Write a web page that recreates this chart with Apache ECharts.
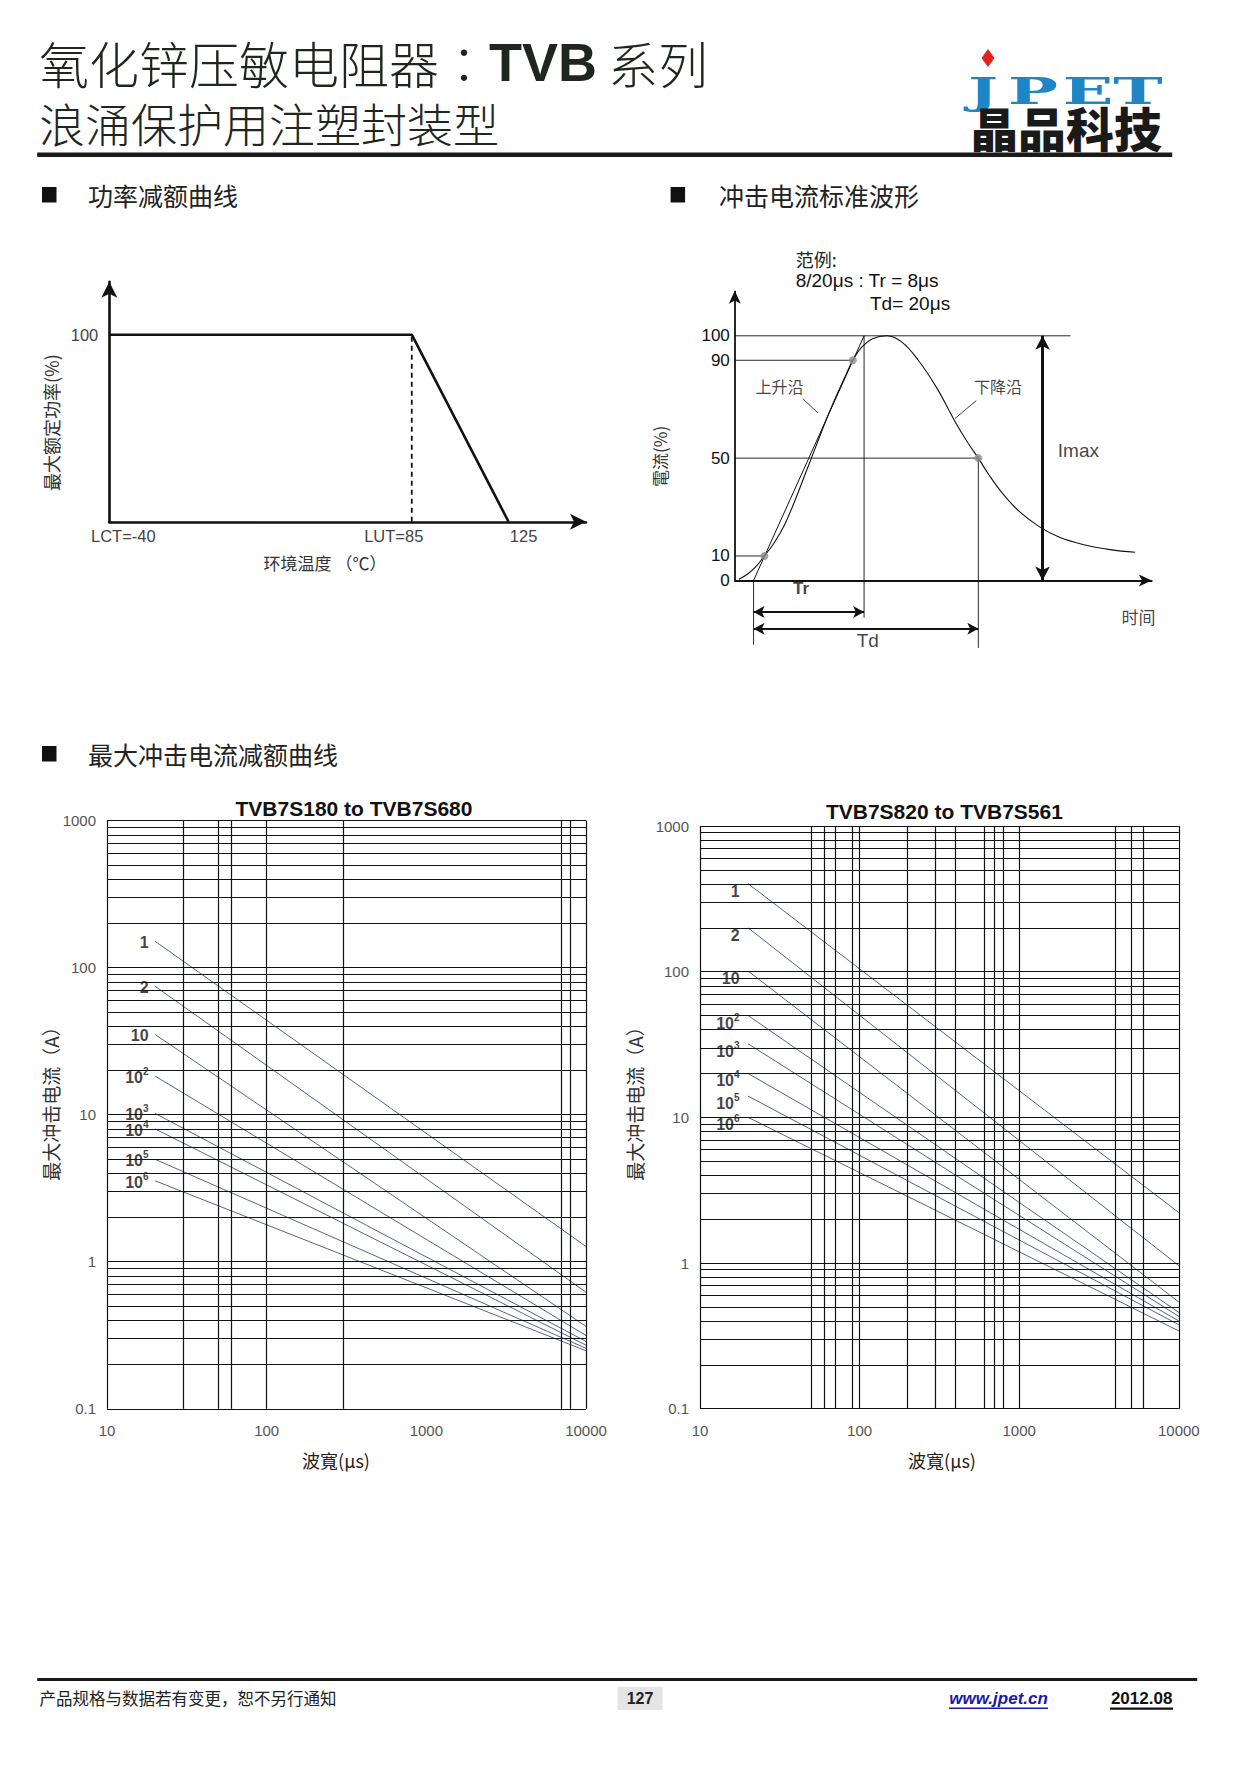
<!DOCTYPE html>
<html><head><meta charset="utf-8">
<script src="https://cdn.jsdelivr.net/npm/echarts@6/dist/echarts.min.js"></script>
<style>html,body{margin:0;padding:0;background:#fff}#c{width:1251px;height:1766px}</style>
</head><body><div id="c"></div>
<script>
// ---------------- DATA ----------------
// Power derating curve
const powerTempC = [-40, 85, 125];
const powerPct = [100, 100, 0];
const powerTickValues = [-40, 85, 125];
const powerTickLabels = ['LCT=-40', 'LUT=85', '125'];
const powerYTicks = [100];

// Standard impulse current waveform (schematic time units 0..100)
const waveT = [1.0, 3.0, 5.0, 7.1, 9.5, 12.0, 14.5, 17.0, 19.5, 22.0, 24.5, 26.5, 28.3, 30.5, 33.0, 36.5, 40.0, 44.0, 48.5, 52.8, 56.0, 58.4, 61.0, 64.0, 68.0, 73.0, 78.0, 84.0, 90.0, 96.0];
const waveI = [0.5, 2.5, 5.5, 10, 15.5, 23, 33, 44, 55, 66, 76, 83.5, 90, 95.5, 98.8, 100, 97.5, 90, 78.5, 65, 56, 50, 43, 36, 28.5, 22, 17.5, 14.5, 12.6, 11.5];
const frontLineT = [4.5, 31.0];
const frontLineI = [0, 100];
const wavePointT = [7.1, 28.3, 58.4];
const wavePointI = [10, 90, 50];
const waveTicks = [0, 10, 50, 90, 100];
const waveRefLevels = [100, 90, 50, 10];
const waveRefEndT = [80.5, 28.3, 58.4, 7.1];
const waveDropT = [4.5, 31.0, 58.4];
const waveDropTopI = [0, 100, 50];
const waveDropBottomI = [-26.3, -15.2, -27.6];
const imaxT = 73.8;

// Max surge current derating curves (pulse width in us -> current in A)
const pulseWidthUs = [20, 10000];
const pulseCountLabels = ['1', '2', '10', '10^2', '10^3', '10^4', '10^5', '10^6'];
const leftStartA = [151, 74.7, 35.1, 18.3, 10.2, 8.0, 4.97, 3.55];
const leftEndA = [1.27, 0.62, 0.363, 0.315, 0.287, 0.271, 0.258, 0.248];
const rightStartA = [402, 200, 101, 50, 32, 20, 14, 10];
const rightEndA = [2.22, 0.96, 0.54, 0.458, 0.43, 0.40, 0.377, 0.342];
const leftVGrid = [10, 30, 50, 60, 100, 300, 7000, 8000, 10000];
const rightVGrid = [10, 50, 60, 70, 90, 100, 200, 300, 400, 600, 700, 800, 1000, 4000, 5000, 6000, 10000];
const hGridValues = [0.1, 0.2, 0.3, 0.4, 0.5, 0.6, 0.7, 0.8, 0.9, 1, 2, 3, 4, 5, 6, 7, 8, 9, 10, 20, 30, 40, 50, 60, 70, 80, 90, 100, 200, 300, 400, 500, 600, 700, 800, 900, 1000];

// ---------------- CHART ----------------
const CJK = '"Noto Sans CJK SC","Noto Sans CJK JP",sans-serif';
const CJK_TC = '"Noto Sans CJK TC","Noto Sans CJK SC",sans-serif';
const LAT = '"Liberation Sans",Arial,"Noto Sans CJK SC",sans-serif';
const chart = echarts.init(document.getElementById('c'), null, {renderer: 'svg', width: 1251, height: 1766});

function txt(x, y, text, o) {
  o = o || {};
  const al = o.align || 'left';
  return {
    type: 'text', x: x, y: y, rotation: o.rot || 0, silent: true, z: 20,
    scaleX: o.sx || 1, scaleY: o.sy || 1,
    style: Object.assign({
      text: text, fill: o.fill || '#222', fontSize: o.size || 16,
      fontFamily: o.family || CJK, fontWeight: o.weight || 'normal', fontStyle: o.fstyle || 'normal',
      align: al, verticalAlign: 'middle', textAlign: al, textVerticalAlign: 'middle'
    }, o.extra || {})
  };
}
function rect(x, y, w, h, fill) {
  return {type: 'rect', silent: true, z: 5, shape: {x: x, y: y, width: w, height: h}, style: {fill: fill}};
}
function supLabel(name) {
  const p = name.split('^');
  return p.length > 1 ? '{a|' + p[0] + '}{s|' + p[1] + '}' : '{a|' + p[0] + '}';
}
const curveRich = {
  a: {fontSize: 16, fontWeight: 'bold', fontFamily: LAT, color: '#111', verticalAlign: 'bottom', lineHeight: 19},
  s: {fontSize: 10, fontWeight: 'bold', fontFamily: LAT, color: '#111', verticalAlign: 'top', lineHeight: 19}
};
const numFmt = v => String(+(+v).toPrecision(6));

function logAxisX(gi) {
  return {gridIndex: gi, type: 'log', logBase: 10, min: 10, max: 10000,
    axisLine: {show: false}, axisTick: {show: false}, splitLine: {show: false}, minorSplitLine: {show: false},
    axisLabel: {formatter: numFmt, fontSize: 15, color: '#555', fontFamily: LAT, margin: 14, showMaxLabel: true, showMinLabel: true}};
}
function logAxisY(gi) {
  return {gridIndex: gi, type: 'log', logBase: 10, min: 0.1, max: 1000,
    axisLine: {show: false}, axisTick: {show: false}, splitLine: {show: false}, minorSplitLine: {show: false},
    axisLabel: {formatter: numFmt, fontSize: 15, color: '#555', fontFamily: LAT, margin: 11, showMaxLabel: true, showMinLabel: true}};
}
function logSeries(ai, starts, ends, vgrid, labelOffset) {
  const out = [];
  starts.forEach((s, i) => {
    const ser = {
      type: 'line', xAxisIndex: ai, yAxisIndex: ai, symbol: 'none', silent: true, z: 3,
      data: [[pulseWidthUs[0], s], [pulseWidthUs[1], ends[i]]],
      lineStyle: {color: '#3f5282', width: 0.9}
    };
    if (i === 0) {
      ser.markLine = {
        silent: true, symbol: ['none', 'none'], label: {show: false}, animation: false,
        lineStyle: {color: '#111', width: 1.2, type: 'solid'},
        data: hGridValues.map(v => ({yAxis: v})).concat(vgrid.map(v => ({xAxis: v})))
      };
    }
    out.push(ser);
  });
  out.push({
    type: 'scatter', xAxisIndex: ai, yAxisIndex: ai, symbolSize: 1, silent: true, z: 6,
    itemStyle: {color: 'rgba(0,0,0,0)'},
    data: starts.map((s, i) => ({value: [pulseWidthUs[0], s], name: pulseCountLabels[i]})),
    label: {show: true, position: 'left', distance: 6, offset: labelOffset,
      formatter: p => supLabel(p.name), rich: curveRich}
  });
  return out;
}

const blackLine = (w, extra) => Object.assign({color: '#111', width: w}, extra || {});

const series = [
  // ---- power derating ----
  {type: 'line', xAxisIndex: 0, yAxisIndex: 0, symbol: 'none', silent: true, z: 3,
    data: powerTempC.map((t, i) => [t, powerPct[i]]), lineStyle: blackLine(2.6)},
  {type: 'line', xAxisIndex: 0, yAxisIndex: 0, symbol: 'none', silent: true, z: 3,
    data: [[powerTempC[1], 0], [powerTempC[1], powerPct[1]]], lineStyle: blackLine(1.8, {type: [5, 4]})},

  // ---- waveform ----
  {type: 'line', xAxisIndex: 1, yAxisIndex: 1, symbol: 'none', silent: true, smooth: 0.4, z: 3,
    data: waveT.map((t, i) => [t, waveI[i]]), lineStyle: blackLine(1.1),
    markLine: {silent: true, symbol: ['none', 'arrow'], symbolSize: [9, 13], label: {show: false}, animation: false,
      lineStyle: blackLine(1.8, {type: 'solid'}),
      data: [[{coord: [0, 0]}, {coord: [0, 118.4]}]]}},
  {type: 'line', xAxisIndex: 1, yAxisIndex: 1, symbol: 'none', silent: true, z: 3,
    data: frontLineT.map((t, i) => [t, frontLineI[i]]), lineStyle: blackLine(1.0)}
].concat(
  waveRefLevels.map((lv, i) => ({type: 'line', xAxisIndex: 1, yAxisIndex: 1, symbol: 'none', silent: true, z: 2,
    data: [[0, lv], [waveRefEndT[i], lv]], lineStyle: blackLine(0.9)})),
  waveDropT.map((t, i) => {
    const s = {type: 'line', xAxisIndex: 1, yAxisIndex: 1, symbol: 'none', silent: true, z: 2, clip: false,
      data: [[t, waveDropTopI[i]], [t, waveDropBottomI[i]]], lineStyle: blackLine(0.9)};
    if (i === 0) {
      s.markLine = {silent: true, symbol: ['arrow', 'arrow'], symbolSize: [9, 11], label: {show: false}, animation: false,
        lineStyle: blackLine(2.0, {type: 'solid'}),
        data: [
          [{coord: [waveDropT[0], -12.9]}, {coord: [waveDropT[1], -12.9]}],
          [{coord: [waveDropT[0], -19.8]}, {coord: [waveDropT[2], -19.8]}]
        ]};
    }
    if (i === 1) {
      s.markLine = {silent: true, symbol: ['arrow', 'arrow'], symbolSize: [11, 14], label: {show: false}, animation: false,
        lineStyle: blackLine(3.0, {type: 'solid'}),
        data: [[{coord: [imaxT, waveRefLevels[0]]}, {coord: [imaxT, 0]}]]};
    }
    return s;
  }),
  [
    {type: 'line', xAxisIndex: 1, yAxisIndex: 1, symbol: 'none', silent: true, z: 2,
      data: [[16.3, 74.3], [19.9, 68.5]], lineStyle: blackLine(0.8)},
    {type: 'line', xAxisIndex: 1, yAxisIndex: 1, symbol: 'none', silent: true, z: 2,
      data: [[57.9, 73.5], [52.8, 66.2]], lineStyle: blackLine(0.8)},
    {type: 'scatter', xAxisIndex: 1, yAxisIndex: 1, symbolSize: 8, silent: true, z: 5,
      itemStyle: {color: '#8c8c8c'}, data: wavePointT.map((t, i) => [t, wavePointI[i]])},
    {type: 'scatter', xAxisIndex: 1, yAxisIndex: 1, symbolSize: 1, silent: true, z: 6,
      itemStyle: {color: 'rgba(0,0,0,0)'},
      label: {show: true, position: 'inside', formatter: p => p.name, color: '#111', fontFamily: CJK, fontSize: 16},
      data: [
        {value: [10.7, 79.6], name: '上升沿'},
        {value: [63.1, 79.6], name: '下降沿'},
        {value: [82.4, 53], name: 'Imax', label: {fontFamily: LAT, fontSize: 19}},
        {value: [96.8, -14.7], name: '时间', label: {fontSize: 17}},
        {value: [15.9, -3.2], name: 'Tr', label: {fontFamily: LAT, fontSize: 17, fontWeight: 'bold'}},
        {value: [31.9, -24.4], name: 'Td', label: {fontFamily: LAT, fontSize: 19}}
      ]}
  ],
  logSeries(2, leftStartA, leftEndA, leftVGrid, [0, 0]),
  logSeries(3, rightStartA, rightEndA, rightVGrid, [-2, 6])
);

const graphic = [
  // header
  txt(39, 62, '{n|氧化锌压敏电阻器}{c|：}{b|TVB}{n| 系列}', {extra: {rich: {
    n: {fontSize: 50, fontFamily: CJK, fill: '#1f261f', color: '#1f261f', fontWeight: 300},
    c: {fontSize: 50, fontFamily: CJK_TC, fill: '#1f261f', color: '#1f261f', fontWeight: 300},
    b: {fontSize: 54, fontFamily: LAT, fontWeight: 'bold', fill: '#1f261f', color: '#1f261f'}}}}),
  txt(39, 122, '浪涌保护用注塑封装型', {size: 46, weight: 300, fill: '#1f261f'}),
  rect(37.2, 152.5, 1135, 4.5, '#1a1a1a'),
  // logo
  {type: 'polygon', silent: true, z: 20, shape: {points: [[988, 49], [994.5, 58], [988, 67], [981.5, 58]]}, style: {fill: '#e0241b'}},
  txt(983, 90.5, 'J', {size: 38, family: '"DejaVu Serif",serif', weight: 'bold', fill: '#1f86c6', align: 'center', sx: 1.65}),
  txt(1033, 90.5, 'P', {size: 38, family: '"DejaVu Serif",serif', weight: 'bold', fill: '#1f86c6', align: 'center', sx: 1.75}),
  txt(1088, 90.5, 'E', {size: 38, family: '"DejaVu Serif",serif', weight: 'bold', fill: '#1f86c6', align: 'center', sx: 1.75}),
  txt(1138, 90.5, 'T', {size: 38, family: '"DejaVu Serif",serif', weight: 'bold', fill: '#1f86c6', align: 'center', sx: 1.75}),
  txt(1066, 127, '晶品科技', {size: 47, weight: 900, fill: '#1a1a1a', align: 'center', sx: 1.02}),
  // section headers
  rect(42, 187, 14.5, 15.5, '#111'),
  txt(88, 195, '功率减额曲线', {size: 25, fill: '#222'}),
  rect(670.6, 187, 14.5, 15.5, '#111'),
  txt(719, 195, '冲击电流标准波形', {size: 25, fill: '#222'}),
  rect(42, 746, 14.5, 15.5, '#111'),
  txt(88, 754, '最大冲击电流减额曲线', {size: 25, fill: '#222'}),
  // power chart titles
  txt(50.7, 422.6, '最大额定功率(%)', {size: 18, rot: Math.PI / 2, align: 'center', fill: '#333'}),
  txt(325, 562.4, '环境温度 （℃）', {size: 17, align: 'center', fill: '#333'}),
  // waveform annotations
  txt(795.7, 259, '范例:', {size: 18}),
  txt(795.7, 280.6, '8/20μs : Tr = 8μs', {size: 19, family: LAT, fill: '#111'}),
  txt(870, 303, 'Td= 20μs', {size: 19, family: LAT, fill: '#111'}),
  txt(659, 456.4, '電流(%)', {size: 17, rot: Math.PI / 2, align: 'center', fill: '#333'}),
  // log chart titles
  txt(354, 808, 'TVB7S180 to TVB7S680', {size: 21, family: LAT, weight: 'bold', align: 'center', fill: '#111'}),
  txt(944.4, 811.4, 'TVB7S820 to TVB7S561', {size: 21, family: LAT, weight: 'bold', align: 'center', fill: '#111'}),
  txt(336, 1459.5, '波寬(μs)', {size: 18, align: 'center', fill: '#222'}),
  txt(942, 1459.5, '波寬(μs)', {size: 18, align: 'center', fill: '#222'}),
  txt(50.7, 1099, '最大冲击电流（A）', {size: 19, rot: Math.PI / 2, align: 'center', fill: '#333'}),
  txt(634.5, 1099, '最大冲击电流（A）', {size: 19, rot: Math.PI / 2, align: 'center', fill: '#333'}),
  // footer
  rect(37.2, 1678, 1160, 3, '#1a1a1a'),
  txt(39.4, 1698.4, '产品规格与数据若有变更，恕不另行通知', {size: 16.5, fill: '#222'}),
  rect(617.6, 1687, 45, 23, '#e4e4e4'),
  txt(640, 1698.4, '127', {size: 16, family: LAT, weight: 'bold', align: 'center', fill: '#222'}),
  txt(998.6, 1698.4, 'www.jpet.cn', {size: 17, family: LAT, weight: 'bold', fstyle: 'italic', align: 'center', fill: '#1a1aa8'}),
  rect(949, 1707.5, 99, 1.6, '#1a1aa8'),
  txt(1141.6, 1698.4, '2012.08', {size: 17, family: LAT, weight: 'bold', align: 'center', fill: '#111'}),
  rect(1110, 1707.5, 63, 2.2, '#111')
];

const option = {
  animation: false,
  backgroundColor: '#fff',
  grid: [
    {left: 109.3, top: 281.75, width: 476.7, height: 240},
    {left: 734.8, top: 290.8, width: 417, height: 363},
    {left: 107, top: 820.5, width: 479, height: 588.3},
    {left: 700, top: 826, width: 478.8, height: 582.7}
  ],
  xAxis: [
    {gridIndex: 0, type: 'value', min: -40, max: 157,
      axisLine: {show: true, onZero: false, symbol: ['none', 'arrow'], symbolSize: [12, 16], lineStyle: {color: '#111', width: 2.6}},
      axisTick: {show: false}, splitLine: {show: false},
      axisLabel: {customValues: powerTickValues, fontSize: 16.5, color: '#444', fontFamily: LAT, margin: 6,
        formatter: v => { const k = powerTickValues.indexOf(v); return k < 0 ? '' : '{p' + k + '|' + powerTickLabels[k] + '}'; },
        rich: {
          p0: {fontSize: 16.5, color: '#444', fontFamily: LAT, padding: [0, 0, 0, 28]},
          p1: {fontSize: 16.5, color: '#444', fontFamily: LAT, padding: [0, 36, 0, 0]},
          p2: {fontSize: 16.5, color: '#444', fontFamily: LAT, padding: [0, 0, 0, 30]}
        }}},
    {gridIndex: 1, type: 'value', min: 0, max: 100,
      axisLine: {show: true, onZero: true, symbol: ['none', 'arrow'], symbolSize: [9, 13], lineStyle: {color: '#111', width: 1.8}},
      axisTick: {show: false}, splitLine: {show: false}, axisLabel: {show: false}},
    logAxisX(2),
    logAxisX(3)
  ],
  yAxis: [
    {gridIndex: 0, type: 'value', min: 0, max: 128.3,
      axisLine: {show: true, onZero: false, symbol: ['none', 'arrow'], symbolSize: [12, 16], lineStyle: {color: '#111', width: 2.6}},
      axisTick: {show: false}, splitLine: {show: false},
      axisLabel: {customValues: powerYTicks, fontSize: 16.5, color: '#444', fontFamily: LAT, margin: 11}},
    {gridIndex: 1, type: 'value', min: -30, max: 118.4,
      axisLine: {show: false}, axisTick: {show: false}, splitLine: {show: false},
      axisLabel: {customValues: waveTicks, fontSize: 17, color: '#111', fontFamily: LAT, margin: 5}},
    logAxisY(2),
    logAxisY(3)
  ],
  series: series,
  graphic: graphic
};
chart.setOption(option);
</script></body></html>
